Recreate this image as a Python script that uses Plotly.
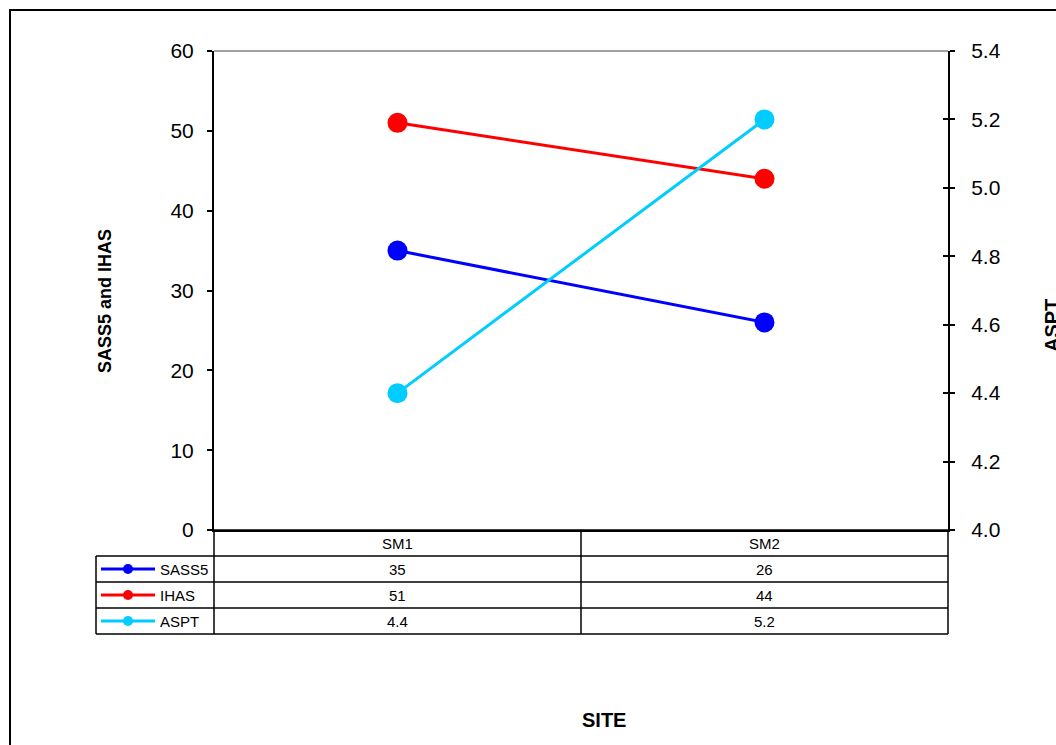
import plotly.graph_objects as go

sites = ["SM1", "SM2"]
sass5 = [35, 26]
ihas = [51, 44]
aspt = [4.4, 5.2]

series_names = ["SASS5", "IHAS", "ASPT"]
series_values = [sass5, ihas, aspt]
series_colors = ["#0000FF", "#FF0000", "#00CCFF"]
series_axes = ["y", "y", "y2"]

W, H = 1056, 745
def px(x):
    return x / W
def py(y):
    return 1 - y / H

fig = go.Figure()
for name, vals, col, ax in zip(series_names, series_values, series_colors, series_axes):
    fig.add_trace(go.Scatter(x=sites, y=vals, name=name, yaxis=ax, mode="lines+markers",
                             line=dict(color=col, width=3),
                             marker=dict(color=col, size=20), showlegend=False))

font = "Arial, Liberation Sans, sans-serif"
xl, xr, yt, yb = 214, 948, 51, 530
fig.update_layout(
    width=W, height=H, margin=dict(l=0, r=0, t=0, b=0, pad=0, autoexpand=False),
    paper_bgcolor="white", plot_bgcolor="white",
    font=dict(family=font, color="black"),
    xaxis=dict(domain=[px(xl), px(xr)], range=[-0.5, 1.5], showticklabels=False,
               ticks="", showgrid=False, zeroline=False, showline=True,
               linecolor="black", linewidth=2, type="category", automargin=False),
    yaxis=dict(domain=[py(yb), py(yt)], range=[0, 60], dtick=10, ticks="outside",
               ticklen=5, tickwidth=1.5, tickcolor="black", showline=True,
               linecolor="black", linewidth=2, showgrid=False, zeroline=False,
               tickfont=dict(size=21), title=None, automargin=False,
               ticklabelstandoff=9),
    yaxis2=dict(overlaying="y", side="right", anchor="x", range=[4.0, 5.4], dtick=0.2,
                tickformat=".1f", ticks="outside", ticklen=5, tickwidth=1.5,
                tickcolor="black", showline=True, linecolor="black", linewidth=2,
                showgrid=False, zeroline=False, tickfont=dict(size=21), automargin=False,
                ticklabelstandoff=12),
    yaxis3=dict(overlaying="y", side="right", anchor="x", range=[4.0, 5.4], dtick=0.2,
                ticks="inside", ticklen=5, tickwidth=1.5, tickcolor="black",
                showticklabels=False, showline=False, showgrid=False, zeroline=False,
                automargin=False),
)
# invisible trace so yaxis3 (crossing tick marks) is drawn
fig.add_trace(go.Scatter(x=sites, y=aspt, yaxis="y3", mode="none", showlegend=False,
                         hoverinfo="skip"))

shapes = []
# outer chart border
shapes.append(dict(type="rect", xref="paper", yref="paper", x0=px(10), y0=-0.05,
                   x1=1.05, y1=py(10), line=dict(color="black", width=2)))
# plot area top border
shapes.append(dict(type="line", xref="paper", yref="paper", x0=px(xl), x1=px(xr),
                   y0=py(yt), y1=py(yt), line=dict(color="#808080", width=1.5)))
# data table
rows_y = [530, 556, 582, 608, 634]
for i, ry in enumerate(rows_y):
    x0 = xl if i == 0 else 96
    shapes.append(dict(type="line", xref="paper", yref="paper", x0=px(x0), x1=px(xr),
                       y0=py(ry), y1=py(ry), line=dict(color="black", width=1.5)))
for vx, top in [(96, 556), (214, 530), (581, 530), (948, 530)]:
    shapes.append(dict(type="line", xref="paper", yref="paper", x0=px(vx), x1=px(vx),
                       y0=py(top), y1=py(634), line=dict(color="black", width=1.5)))

annotations = []
for s in sites:
    annotations.append(dict(x=s, xref="x", y=py(543), yref="paper", text=s,
                            showarrow=False, font=dict(size=15), xanchor="center",
                            yanchor="middle"))
for i, (name, vals, col) in enumerate(zip(series_names, series_values, series_colors)):
    cy = (rows_y[i + 1] + rows_y[i + 2]) / 2
    shapes.append(dict(type="line", xref="paper", yref="paper", x0=px(101), x1=px(155),
                       y0=py(cy), y1=py(cy), line=dict(color=col, width=3)))
    shapes.append(dict(type="circle", xref="paper", yref="paper", x0=px(123), x1=px(133),
                       y0=py(cy + 5), y1=py(cy - 5), fillcolor=col, line=dict(color=col, width=0)))
    annotations.append(dict(x=px(158), xref="paper", y=py(cy), yref="paper", text=name,
                            showarrow=False, font=dict(size=15), xanchor="left",
                            yanchor="middle"))
    for s, v in zip(sites, vals):
        annotations.append(dict(x=s, xref="x", y=py(cy), yref="paper", text=str(v),
                                showarrow=False, font=dict(size=15), xanchor="center",
                                yanchor="middle"))

annotations.append(dict(x=px(105), xref="paper", y=py(301), yref="paper",
                        text="<b>SASS5 and IHAS</b>", textangle=-90, showarrow=False,
                        font=dict(size=18), xanchor="center", yanchor="middle"))
annotations.append(dict(x=px(1039), xref="paper", y=py(326), yref="paper",
                        text="<b>ASPT</b>", textangle=-90, showarrow=False,
                        font=dict(size=20), xanchor="left", yanchor="middle"))
annotations.append(dict(x=px(604), xref="paper", y=py(720), yref="paper",
                        text="<b>SITE</b>", showarrow=False,
                        font=dict(size=20), xanchor="center", yanchor="middle"))

fig.update_layout(shapes=shapes, annotations=annotations)
fig.write_html("out.html", config={"responsive": False, "displayModeBar": False},
               post_script="document.body.style.margin='0';")
